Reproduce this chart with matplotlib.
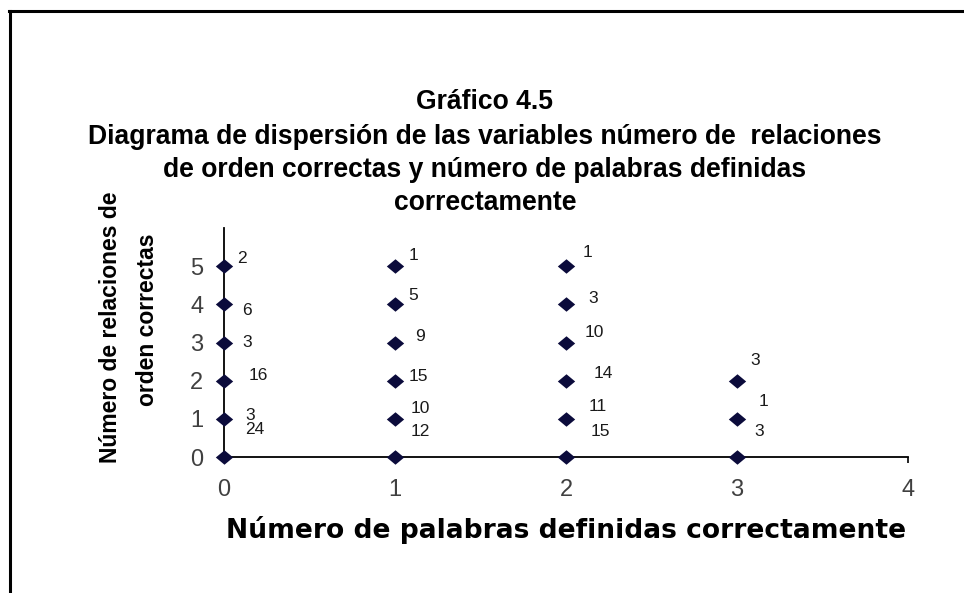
import matplotlib
matplotlib.use("Agg")
import matplotlib.pyplot as plt
from matplotlib.path import Path
from matplotlib.lines import Line2D

# ---------------- data ----------------
palabras = [0, 1, 2, 3]                      # x categories
relaciones_0 = [5, 4, 3, 2, 1, 0]             # y values at x = 0
relaciones_1 = [5, 4, 3, 2, 1, 0]             # y values at x = 1
relaciones_2 = [5, 4, 3, 2, 1, 0]             # y values at x = 2
relaciones_3 = [2, 1, 0]                      # y values at x = 3
frecuencias_0 = ["2", "6", "3", "16", "3", "24"]
frecuencias_1 = ["1", "5", "9", "15", "10", "12"]
frecuencias_2 = ["1", "3", "10", "14", "11", "15"]
frecuencias_3 = ["3", "1", "3"]
x_ticks = [0, 1, 2, 3, 4]
y_ticks = [0, 1, 2, 3, 4, 5]

title_lines = ["Gráfico 4.5",
               "Diagrama de dispersión de las variables número de  relaciones",
               "de orden correctas y número de palabras definidas",
               "correctamente"]
x_label = "Número de palabras definidas correctamente"
y_label_lines = ["Número de relaciones de", "orden correctas"]

# label offsets (pixels) relative to each marker - layout only
offs_0 = [(18, 8), (23, -6), (23, 0), (34, 5), (26, 3), (31, 27)]
offs_1 = [(18, 11), (18, 9), (25, 6), (23, 4), (25, 10), (25, 26)]
offs_2 = [(21, 14), (27, 6), (28, 10), (37, 7), (32, 12), (34, 25)]
offs_3 = [(18, 20), (26, 17), (22, 26)]

groups = [(palabras[0], relaciones_0, frecuencias_0, offs_0),
          (palabras[1], relaciones_1, frecuencias_1, offs_1),
          (palabras[2], relaciones_2, frecuencias_2, offs_2),
          (palabras[3], relaciones_3, frecuencias_3, offs_3)]

# ---------------- figure ----------------
W, H = 964, 593
fig = plt.figure(figsize=(W / 100, H / 100), dpi=100)
fig.patch.set_facecolor("white")

ax = fig.add_axes([224 / W, (H - 457) / H, 684 / W, 229 / H])
ax.set_xlim(0, 4)
ax.set_ylim(0, 6)
ax.set_facecolor("white")
for s in ["top", "right"]:
    ax.spines[s].set_visible(False)
for s in ["left", "bottom"]:
    ax.spines[s].set_linewidth(1.3)
    ax.spines[s].set_color("black")

diamond = Path([(0, 1), (1.2, 0), (0, -1), (-1.2, 0), (0, 1)],
               [Path.MOVETO, Path.LINETO, Path.LINETO, Path.LINETO, Path.CLOSEPOLY])
mcolor = "#0b0b3b"

for xv, ys, labs, offs in groups:
    xs = [xv] * len(ys)
    ax.plot(xs, ys, linestyle="none", marker=diamond, markersize=12.5,
            color=mcolor, markeredgewidth=0, zorder=5, clip_on=False)
    for yv, lab, (dx, dy) in zip(ys, labs, offs):
        ax.annotate(lab, (xv, yv), xytext=(dx, dy), textcoords="offset pixels",
                    ha="center", va="center", fontsize=12.5,
                    family="Liberation Sans", color="#1a1a1a", zorder=6)

ax.set_xticks(x_ticks)
ax.set_yticks(y_ticks)
ax.set_xticklabels([str(t) for t in x_ticks])
ax.set_yticklabels([str(t) for t in y_ticks])
ax.tick_params(axis="x", direction="out", length=4, width=1.2, pad=12,
               labelsize=17, labelcolor="#404040")
ax.tick_params(axis="y", direction="out", length=3, width=1.2, pad=12,
               labelsize=17, labelcolor="#404040")
for lab in ax.get_xticklabels() + ax.get_yticklabels():
    lab.set_family("Liberation Sans")

# ---------------- texts ----------------
def px(x, y):
    return x / W, 1 - y / H

renderer = fig.canvas.get_renderer()

def fit(txt, target, horizontal=True):
    bb = txt.get_window_extent(renderer)
    cur = bb.width if horizontal else bb.height
    txt.set_fontsize(txt.get_fontsize() * target / cur)

t_y = [102, 137, 170, 203]
title_objs = []
for line, yy in zip(title_lines, t_y):
    t = fig.text(*px(485, yy), line, ha="center", va="center", fontsize=16,
                 fontweight="bold", family="Liberation Sans", color="black")
    title_objs.append(t)
fit(title_objs[1], 793)
for t in title_objs:
    t.set_fontsize(title_objs[1].get_fontsize())

xl = fig.text(*px(566, 530), x_label, ha="center", va="center", fontsize=15,
              fontweight="bold", family="DejaVu Sans", color="black")
fit(xl, 680)

yl1 = fig.text(*px(111, 327), y_label_lines[0], ha="center", va="center",
               rotation=90, fontsize=16.5, fontweight="bold",
               family="Liberation Sans", color="black")
yl2 = fig.text(*px(148, 320), y_label_lines[1], ha="center", va="center",
               rotation=90, fontsize=16.5, fontweight="bold",
               family="Liberation Sans", color="black")

# outer frame (left and top edges)
fig.add_artist(Line2D([10 / W, 10 / W], [1 - 11 / H, 0], transform=fig.transFigure,
                      color="black", linewidth=2.2))
fig.add_artist(Line2D([9 / W, 1], [1 - 11 / H, 1 - 11 / H], transform=fig.transFigure,
                      color="black", linewidth=2.2))

fig.savefig("out.png", dpi=100, facecolor="white")
